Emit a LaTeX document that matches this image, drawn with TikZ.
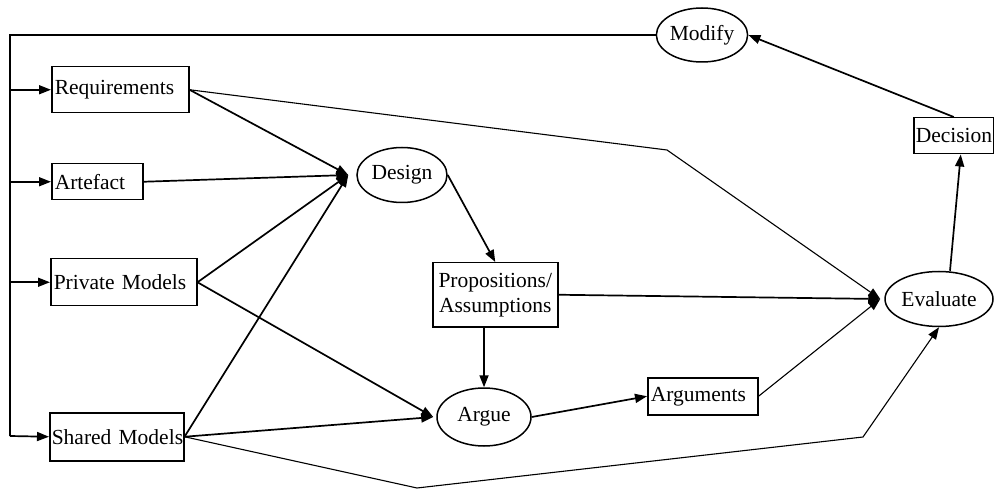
\documentclass[tikz,border=0pt]{standalone}
\usepackage{fontspec}
\setmainfont{Liberation Serif}
\usetikzlibrary{shapes.geometric,arrows.meta}
\begin{document}
\begin{tikzpicture}[x=1pt,y=-1pt,
  font=\fontsize{21.5}{25}\selectfont,
  box/.style={draw,line width=1.5pt,anchor=north west,inner xsep=3pt,inner ysep=0pt,align=left},
  oval/.style={draw,ellipse,line width=1.5pt,inner sep=0pt},
  arr/.style={line width=1.7pt,-{Triangle[length=12pt,width=9pt]}},
  thinline/.style={line width=1.1pt}]
\useasboundingbox (0,0) rectangle (994,489);
% boxes
\node[box,text width=131pt,minimum height=46pt] (req) at (51,66) {\mbox{Requirements}};
\node[box,text width=85pt,minimum height=36pt] (art) at (51,163) {\mbox{Artefact}};
\node[box,text width=140pt,minimum height=47pt] (priv) at (50,258) {\mbox{Private Models}};
\node[box,text width=130pt,minimum height=48pt,inner xsep=2pt] (shared) at (49,412) {\mbox{Shared Models}};
\node[box,text width=119pt,minimum height=64pt,align=center] (prop) at (432,262) {Propositions/\\Assumptions};
\node[box,text width=104pt,minimum height=37pt] (args) at (647,377) {\mbox{Arguments}};
\node[box,text width=76pt,minimum height=36pt,inner xsep=2pt] (dec) at (913,117) {\mbox{Decision}};
% ovals
\node[oval,minimum width=90pt,minimum height=55pt] (design) at (402,175) {Design};
\node[oval,minimum width=90pt,minimum height=54pt] (modify) at (702,35) {Modify};
\node[oval,minimum width=108pt,minimum height=55pt] (eval) at (939,299) {Evaluate};
\node[oval,minimum width=94pt,minimum height=58pt] (argue) at (484,417) {Argue};
% helper coordinates
\coordinate (din) at ([xshift=-8pt]design.west);
\coordinate (ein) at ([xshift=-4pt]eval.west);
\coordinate (ain) at ([xshift=-3pt]argue.west);
\coordinate (b1) at (667,150);
\coordinate (b2) at (417,488);
\coordinate (b3) at (863,437);
\coordinate (lb) at (10,436);
% into Design
\draw[arr] (req.east) -- (din);
\draw[arr] (art.east) -- (din);
\draw[arr] (priv.east) -- (din);
\draw[arr] (shared.east) -- (din);
% into Evaluate
\draw[arr,thinline] (req.east) -- (b1) -- (ein);
\draw[arr] (prop.east) -- (ein);
\draw[arr,thinline] (args.east) -- (ein);
\draw[arr,thinline] (shared.east) -- (b2) -- (b3) -- (eval.south);
% middle
\draw[arr] (design.east) -- (prop.north);
\draw[arr] (argue.north |- prop.south) -- (argue.north);
\draw[arr] (priv.east) -- (ain);
\draw[arr] (shared.east) -- (ain);
\draw[arr] (argue.east) -- (args.west);
% decision loop
\draw[arr] ([xshift=11pt]eval.north) -- ([xshift=7pt]dec.south);
\draw[arr] (dec.north) -- (modify.east);
\draw[thinline] (modify.west) -- (modify.west -| lb) -- (lb);
\draw[arr] (lb |- req.west) -- (req.west);
\draw[arr] (lb |- art.west) -- (art.west);
\draw[arr] (lb |- priv.west) -- (priv.west);
\draw[arr] (lb) -- (shared.west);
\end{tikzpicture}
\end{document}
